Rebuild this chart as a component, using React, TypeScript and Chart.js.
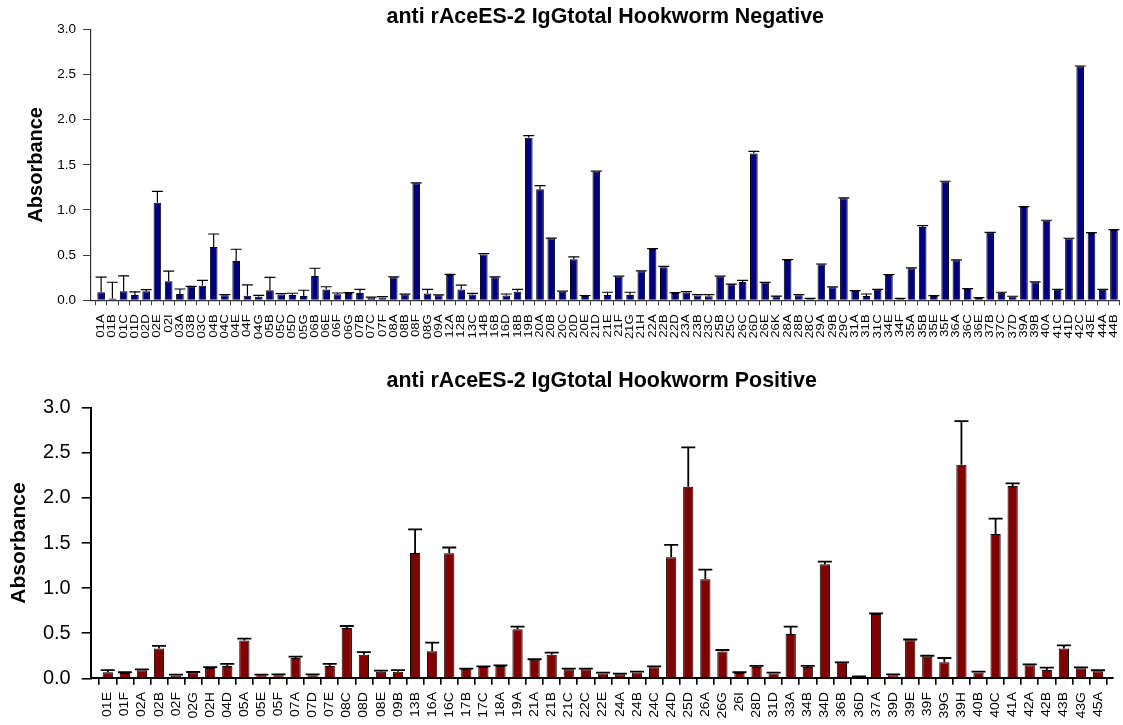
import React, { useEffect, useRef } from 'react';
import { Chart, registerables } from 'chart.js';
Chart.register(...registerables);

const FONT = 'Arial, "Liberation Sans", Helvetica, sans-serif';

const negLabels = [
  '01A','01B','01C','01D','02D','02E','02I','03A','03B','03C',
  '04B','04C','04E','04F','04G','05B','05C','05D','05G','06B',
  '06E','06F','06G','07B','07C','07F','08A','08B','08F','08G',
  '09A','12A','12B','13C','14B','16B','16D','18B','19B','20A',
  '20B','20C','20D','20E','21D','21E','21F','21G','21H','22A',
  '22B','22D','23A','23B','23C','25B','25C','26C','26D','26E',
  '26K','28A','28B','28C','29A','29B','29C','31A','31B','31C',
  '34E','34F','35A','35B','35E','35F','36A','36C','36E','37B',
  '37C','37D','39A','39B','40A','41C','41D','42C','43E','44A',
  '44B',
];
const negValues = [
  0.09, 0.02, 0.10, 0.06, 0.10, 1.08, 0.21, 0.07, 0.15, 0.16,
  0.59, 0.055, 0.435, 0.05, 0.04, 0.11, 0.063, 0.06, 0.048, 0.27,
  0.12, 0.066, 0.08, 0.08, 0.03, 0.03, 0.255, 0.063, 1.295, 0.074,
  0.055, 0.28, 0.12, 0.063, 0.506, 0.255, 0.052, 0.096, 1.80, 1.23,
  0.683, 0.096, 0.454, 0.048, 1.424, 0.059, 0.262, 0.059, 0.321, 0.568,
  0.365, 0.081, 0.085, 0.052, 0.044, 0.262, 0.177, 0.203, 1.624, 0.196,
  0.044, 0.446, 0.055, 0.018, 0.399, 0.144, 1.129, 0.103, 0.048, 0.118,
  0.28, 0.018, 0.354, 0.812, 0.048, 1.314, 0.443, 0.125, 0.026, 0.749,
  0.081, 0.041, 1.033, 0.199, 0.882, 0.118, 0.683, 2.59, 0.745, 0.118,
  0.779,
];
const negErrors = [
  0.166, 0.18, 0.17, 0.033, 0.018, 0.126, 0.114, 0.055, 0.005, 0.06,
  0.144, 0.008, 0.13, 0.12, 0.014, 0.144, 0.011, 0.018, 0.063, 0.085,
  0.03, 0.015, 0.005, 0.04, 0.005, 0.011, 0.005, 0.005, 0.005, 0.048,
  0.005, 0.008, 0.048, 0.014, 0.011, 0.005, 0.018, 0.026, 0.023, 0.04,
  0.005, 0.005, 0.026, 0.005, 0.005, 0.03, 0.005, 0.03, 0.005, 0.003,
  0.011, 0.005, 0.011, 0.011, 0.019, 0.005, 0.003, 0.018, 0.025, 0.003,
  0.003, 0.005, 0.008, 0.004, 0.003, 0.004, 0.004, 0.004, 0.022, 0.004,
  0.004, 0.004, 0.004, 0.015, 0.004, 0.004, 0.004, 0.004, 0.004, 0.004,
  0.008, 0.004, 0.004, 0.004, 0.004, 0.004, 0.004, 0.004, 0.004, 0.004,
  0.004,
];

const posLabels = [
  '01E','01F','02A','02B','02F','02G','02H','04D','05A','05E',
  '05F','07A','07D','07E','08C','08D','08E','09B','13B','16A',
  '16C','17B','17C','18A','19A','21A','21B','21C','22C','22E',
  '24A','24B','24C','24D','25D','26A','26G','26I','28D','31D',
  '33A','34B','34D','36B','36D','37A','39D','39E','39F','39G',
  '39H','40B','40C','41A','42A','42B','43B','43G','45A',
];
const posValues = [
  0.066, 0.06, 0.09, 0.33, 0.03, 0.063, 0.115, 0.137, 0.42, 0.033,
  0.033, 0.225, 0.033, 0.137, 0.558, 0.26, 0.074, 0.074, 1.39, 0.30,
  1.385, 0.107, 0.125, 0.137, 0.543, 0.207, 0.262, 0.10, 0.10, 0.052,
  0.044, 0.063, 0.122, 1.341, 2.124, 1.097, 0.296, 0.059, 0.126, 0.052,
  0.491, 0.126, 1.264, 0.177, 0.015, 0.713, 0.033, 0.421, 0.24, 0.177,
  2.368, 0.063, 1.60, 2.132, 0.144, 0.092, 0.329, 0.111, 0.078,
];
const posErrors = [
  0.024, 0.007, 0.01, 0.03, 0.01, 0.007, 0.01, 0.023, 0.02, 0.007,
  0.01, 0.015, 0.011, 0.023, 0.022, 0.03, 0.011, 0.016, 0.26, 0.095,
  0.065, 0, 0.008, 0.007, 0.03, 0.004, 0.023, 0.007, 0.007, 0.011,
  0.007, 0.011, 0.011, 0.139, 0.436, 0.107, 0.018, 0.008, 0.011, 0.011,
  0.082, 0.011, 0.029, 0, 0.007, 0.007, 0.011, 0.009, 0.01, 0.048,
  0.484, 0.011, 0.17, 0.029, 0.011, 0.026, 0.037, 0.011, 0.011,
];

const yTickValues = [0, 0.5, 1.0, 1.5, 2.0, 2.5, 3.0];

const negTitle = 'anti rAceES-2 IgGtotal Hookworm Negative';
const posTitle = 'anti rAceES-2 IgGtotal Hookworm Positive';
const yAxisTitle = 'Absorbance';

type Spec = {
  title: string;
  labels: string[];
  values: number[];
  errors: number[];
  color: string;
  width: number;
  height: number;
  top: number;
  padTop: number;
  padRight: number;
  xAxisHeight: number;
  yAxisWidth: number;
  xMin: number;
  xMax: number;
  barPct: number;
  axisColor: string;
  axisWidth: number;
  xTickLen: number;
  yTickLen: number;
  yFont: number;
  yPad: number;
  xFont: number;
  xStretch: number;
  xLabelGap: number;
  titleFont: number;
  titleDy: number;
  yTitleFont: number;
  yTitleDx: number;
  errWidth: number;
  capHalf: number;
};

const topSpec: Spec = {
  title: negTitle, labels: negLabels, values: negValues, errors: negErrors,
  color: '#000080', width: 1123, height: 355, top: 0,
  padTop: 29.3, padRight: 3.4, xAxisHeight: 54.7, yAxisWidth: 91,
  xMin: -0.9, xMax: 90.5, barPct: 0.68,
  axisColor: '#333333', axisWidth: 1.2, xTickLen: 5, yTickLen: 8,
  yFont: 13.5, yPad: 7, xFont: 11, xStretch: 1.2, xLabelGap: 14,
  titleFont: 21.4, titleDy: 6.6, yTitleFont: 20, yTitleDx: 55,
  errWidth: 1.2, capHalf: 5.5,
};

const bottomSpec: Spec = {
  title: posTitle, labels: posLabels, values: posValues, errors: posErrors,
  color: '#800000', width: 1123, height: 370, top: 355,
  padTop: 52.7, padRight: 10.3, xAxisHeight: 46.7, yAxisWidth: 90.7,
  xMin: -1.0, xMax: 58.86, barPct: 0.6,
  axisColor: '#000000', axisWidth: 2, xTickLen: 6.5, yTickLen: 9,
  yFont: 20, yPad: 11, xFont: 13, xStretch: 1.08, xLabelGap: 13.7,
  titleFont: 21.4, titleDy: 20.4, yTitleFont: 21, yTitleDx: 71,
  errWidth: 1.8, capHalf: 7,
};

function BarPanel({ spec }: { spec: Spec }) {
  const ref = useRef<HTMLCanvasElement>(null);
  useEffect(() => {
    const s = spec;
    const canvas = ref.current;
    if (!canvas) return;
    const decor = {
      id: 'decor',
      afterDatasetsDraw(chart: any) {
        const { ctx, scales } = chart;
        const x = scales.x;
        const y = scales.y;
        ctx.save();
        ctx.strokeStyle = '#000';
        ctx.lineWidth = s.errWidth;
        s.values.forEach((v, i) => {
          const px = x.getPixelForValue(i);
          const y0 = y.getPixelForValue(v);
          const y1 = y.getPixelForValue(v + s.errors[i]);
          ctx.beginPath();
          ctx.moveTo(px, y0);
          ctx.lineTo(px, y1);
          ctx.moveTo(px - s.capHalf, y1);
          ctx.lineTo(px + s.capHalf, y1);
          ctx.stroke();
        });
        ctx.restore();
      },
      afterDraw(chart: any) {
        const { ctx, chartArea: ca, scales } = chart;
        const x = scales.x;
        ctx.save();
        ctx.fillStyle = '#000';
        ctx.font = `${s.xFont}px ${FONT}`;
        s.labels.forEach((lab, i) => {
          const px = x.getPixelForValue(i);
          ctx.save();
          ctx.translate(px, ca.bottom + s.xLabelGap);
          ctx.rotate(-Math.PI / 2);
          ctx.scale(s.xStretch, 1);
          ctx.textAlign = 'right';
          ctx.textBaseline = 'middle';
          ctx.fillText(lab, 0, 0);
          ctx.restore();
        });
        ctx.save();
        ctx.translate(ca.left - s.yTitleDx, (ca.top + ca.bottom) / 2);
        ctx.rotate(-Math.PI / 2);
        ctx.font = `bold ${s.yTitleFont}px ${FONT}`;
        ctx.textAlign = 'center';
        ctx.textBaseline = 'middle';
        ctx.fillText(yAxisTitle, 0, 0);
        ctx.restore();
        ctx.font = `bold ${s.titleFont}px ${FONT}`;
        ctx.textAlign = 'center';
        ctx.textBaseline = 'alphabetic';
        ctx.fillText(s.title, (ca.left + ca.right) / 2, ca.top - s.titleDy);
        ctx.restore();
      },
    };

    const chart = new Chart(canvas, {
      type: 'bar',
      data: {
        datasets: [
          {
            data: s.values.map((v, i) => ({ x: i, y: v })),
            backgroundColor: s.color,
            borderColor: '#000',
            borderWidth: 1,
            barPercentage: s.barPct,
            categoryPercentage: 1,
          } as any,
        ],
      },
      options: {
        responsive: false,
        animation: false,
        devicePixelRatio: 1,
        layout: { padding: { left: 0, right: s.padRight, top: s.padTop, bottom: 0 } },
        plugins: {
          legend: { display: false },
          tooltip: { enabled: false },
          title: { display: false },
        },
        scales: {
          x: {
            type: 'linear',
            min: s.xMin,
            max: s.xMax,
            offset: false,
            afterBuildTicks: (axis: any) => {
              axis.ticks = s.labels.map((_, i) => ({ value: i }));
            },
            ticks: { display: false },
            grid: {
              display: true,
              drawOnChartArea: false,
              drawTicks: true,
              tickLength: s.xTickLen,
              color: s.axisColor,
              lineWidth: s.axisWidth * 0.8,
            },
            border: { display: true, color: s.axisColor, width: s.axisWidth },
            afterFit: (axis: any) => {
              axis.height = s.xAxisHeight;
            },
          },
          y: {
            min: 0,
            max: 3,
            afterBuildTicks: (axis: any) => {
              axis.ticks = yTickValues.map((v) => ({ value: v }));
            },
            ticks: {
              callback: (v: any) => Number(v).toFixed(1),
              font: { family: FONT, size: s.yFont },
              color: '#000',
              padding: s.yPad,
            },
            grid: {
              display: true,
              drawOnChartArea: false,
              drawTicks: true,
              tickLength: s.yTickLen,
              color: s.axisColor,
              lineWidth: s.axisWidth * 0.8,
            },
            border: { display: true, color: s.axisColor, width: s.axisWidth },
            afterFit: (axis: any) => {
              axis.width = s.yAxisWidth;
            },
          },
        },
      } as any,
      plugins: [decor],
    });
    return () => chart.destroy();
  }, [spec]);

  return (
    <canvas
      ref={ref}
      width={spec.width}
      height={spec.height}
      style={{ position: 'absolute', left: 0, top: spec.top, width: spec.width, height: spec.height, display: 'block' }}
    />
  );
}

export default function App() {
  return (
    <div style={{ position: 'absolute', left: 0, top: 0, width: 1123, height: 725, background: '#fff', overflow: 'hidden' }}>
      <BarPanel spec={topSpec} />
      <BarPanel spec={bottomSpec} />
    </div>
  );
}
